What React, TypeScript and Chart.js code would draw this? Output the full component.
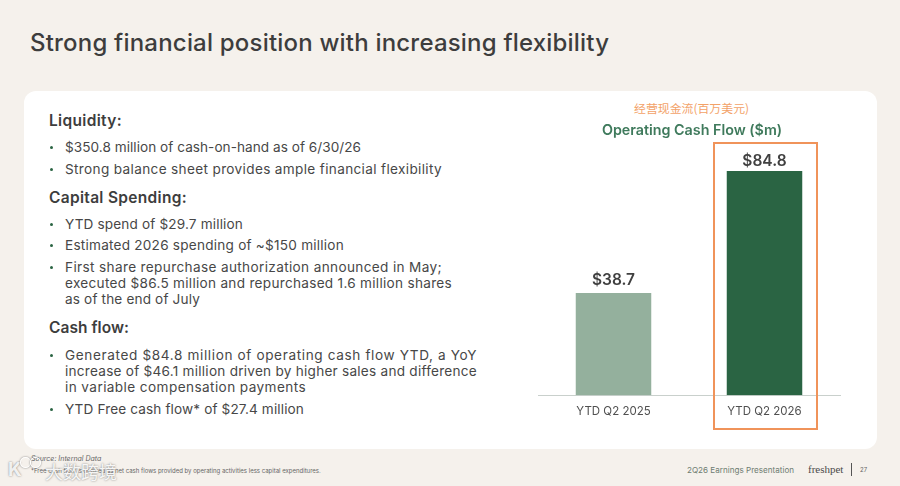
import React, { useEffect, useRef } from "react";
import { Chart, registerables } from "chart.js";

Chart.register(...registerables);

const categories = ["YTD Q2 2025", "YTD Q2 2026"];
const cashFlow = [38.7, 84.8];
const barColors = ["#94b09d", "#2a6443"];
const valueLabels = ["$38.7", "$84.8"];
const FONT = "Inter, 'Noto Sans', sans-serif";
const INK = "#474747";

type Line = { t: string; x: number; y: number; w: number; bold?: boolean; bullet?: boolean };
const textLines: Line[] = [
  { t: "Liquidity:", x: 49, y: 121, w: 73, bold: true },
  { t: "$350.8 million of cash-on-hand as of 6/30/26", x: 65, y: 147, w: 296, bullet: true },
  { t: "Strong balance sheet provides ample financial flexibility", x: 65, y: 169, w: 377, bullet: true },
  { t: "Capital Spending:", x: 49, y: 198, w: 138, bold: true },
  { t: "YTD spend of $29.7 million", x: 65, y: 224, w: 178, bullet: true },
  { t: "Estimated 2026 spending of ~$150 million", x: 65, y: 245, w: 279, bullet: true },
  { t: "First share repurchase authorization announced in May;", x: 65, y: 267, w: 377, bullet: true },
  { t: "executed $86.5 million and repurchased 1.6 million shares", x: 65, y: 283, w: 387 },
  { t: "as of the end of July", x: 65, y: 299, w: 135 },
  { t: "Cash flow:", x: 49, y: 328, w: 80, bold: true },
  { t: "Generated $84.8 million of operating cash flow YTD, a YoY", x: 65, y: 355, w: 412, bullet: true },
  { t: "increase of $46.1 million driven by higher sales and difference", x: 65, y: 371, w: 412 },
  { t: "in variable compensation payments", x: 65, y: 387, w: 241 },
  { t: "YTD Free cash flow* of $27.4 million", x: 65, y: 409, w: 239, bullet: true },
];

const labelLift = [8, 5];

const valueLabelPlugin = {
  id: "valueLabels",
  afterDatasetsDraw(chart: Chart) {
    const { ctx } = chart;
    chart.getDatasetMeta(0).data.forEach((bar: any, i: number) => {
      ctx.save();
      ctx.font = `600 15.5px ${FONT}`;
      ctx.fillStyle = "#404040";
      ctx.textAlign = "center";
      ctx.textBaseline = "alphabetic";
      ctx.fillText(valueLabels[i], bar.x, bar.y - labelLift[i]);
      ctx.restore();
    });
  },
};

function Fit({ line }: { line: Line }) {
  const ref = useRef<HTMLSpanElement>(null);
  useEffect(() => {
    const el = ref.current;
    if (!el) return;
    el.style.letterSpacing = "0px";
    const natural = el.getBoundingClientRect().width;
    el.style.letterSpacing = `${(line.w - natural) / line.t.length}px`;
  }, [line]);
  return (
    <>
      {line.bullet && (
        <div style={{ position: "absolute", left: 50, top: line.y - 1.5, width: 3, height: 3, borderRadius: 2, background: "#2a6443" }} />
      )}
      <span
        ref={ref}
        style={{
          position: "absolute",
          left: line.x,
          top: line.y - 10,
          lineHeight: "20px",
          whiteSpace: "nowrap",
          fontSize: line.bold ? 15.5 : 13.6,
          fontWeight: line.bold ? 600 : 400,
          color: line.bold ? "#3d3d3d" : INK,
        }}
      >
        {line.t}
      </span>
    </>
  );
}

const abs = (o: React.CSSProperties): React.CSSProperties => ({ position: "absolute", whiteSpace: "nowrap", ...o });

export default function App() {
  const canvasRef = useRef<HTMLCanvasElement>(null);

  useEffect(() => {
    document.body.style.margin = "0";
    const chart = new Chart(canvasRef.current!, {
      type: "bar",
      data: {
        labels: categories,
        datasets: [
          {
            data: cashFlow,
            backgroundColor: barColors,
            barPercentage: 0.5,
            categoryPercentage: 1,
          },
        ],
      },
      options: {
        animation: false,
        responsive: false,
        layout: { padding: { top: 22, right: 0, left: 0, bottom: 0 } },
        plugins: {
          legend: { display: false },
          tooltip: { enabled: false },
          title: {
            display: true,
            text: "Operating Cash Flow ($m)",
            color: "#3f7a5c",
            font: { family: FONT, size: 14.3, weight: 600 },
            padding: { top: 0, bottom: 5 },
          },
        },
        scales: {
          x: {
            grid: { display: false, drawTicks: false },
            border: { display: true, color: "#c9d0cc", width: 1 },
            ticks: { color: "#505050", font: { family: FONT, size: 11.5 }, padding: 9, maxRotation: 0 },
          },
          y: {
            position: "right",
            min: 0,
            max: 95,
            grid: { display: false, drawTicks: false },
            border: { display: false },
            ticks: { display: false },
            afterFit(scale: any) {
              scale.width = 6;
            },
          },
        },
      },
      plugins: [valueLabelPlugin],
    });
    return () => chart.destroy();
  }, []);

  return (
    <div style={{ position: "relative", width: 900, height: 486, overflow: "hidden", background: "#f5f1ec", fontFamily: FONT }}>
      <div style={abs({ left: 30, top: 27, fontSize: 24, lineHeight: "32px", fontWeight: 500, color: "#3d3d3d", letterSpacing: "0.2px" })}>
        Strong financial position with increasing flexibility
      </div>
      <div style={{ position: "absolute", left: 24, top: 91, width: 853, height: 358, borderRadius: 12, background: "#ffffff" }} />
      {textLines.map((l) => (
        <Fit key={l.t} line={l} />
      ))}
      <div style={abs({ left: 634, top: 100, fontSize: 11.9, lineHeight: "16px", color: "#f3a268", fontFamily: "'Noto Sans CJK SC', sans-serif" })}>
        经营现金流(百万美元)
      </div>
      <canvas ref={canvasRef} width={308} height={327} style={{ position: "absolute", left: 538, top: 100, width: 308, height: 327 }} />
      <div style={{ position: "absolute", left: 713, top: 142, width: 105, height: 288, boxSizing: "border-box", border: "2px solid #f0935a" }} />
      <div style={abs({ left: 31, top: 455, fontSize: 7, lineHeight: "8px", color: "#666", fontStyle: "italic" })}>Source: Internal Data</div>
      <div style={abs({ left: 31, top: 467, fontSize: 6, lineHeight: "8px", color: "#666" })}>
        *Free cash flow is defined as net cash flows provided by operating activities less capital expenditures.
      </div>
      <div style={abs({ left: 8, top: 459, fontSize: 19, lineHeight: "22px", fontWeight: 700, color: "rgba(255,255,255,0.9)", textShadow: "0 0 2px #777" })}>K</div>
      <div style={{ position: "absolute", left: 20, top: 457, width: 9, height: 9, borderRadius: 5, border: "1.5px solid rgba(255,255,255,0.9)", boxShadow: "0 0 2px #777" }} />
      <div style={{ position: "absolute", left: 30, top: 457, width: 9, height: 9, borderRadius: 5, border: "1.5px solid rgba(255,255,255,0.9)", boxShadow: "0 0 2px #777" }} />
      <div style={abs({ left: 45, top: 460, fontSize: 18, lineHeight: "22px", color: "rgba(255,255,255,0.92)", textShadow: "0 0 2px #777", fontFamily: "'Noto Sans CJK SC', sans-serif" })}>
        大数跨境
      </div>
      <div style={abs({ left: 687, top: 465, fontSize: 8.1, lineHeight: "10px", color: "#6f7d72" })}>2Q26 Earnings Presentation</div>
      <div style={abs({ left: 808, top: 462, fontSize: 11, lineHeight: "14px", color: "#4a4a4a", fontFamily: "'Liberation Serif', serif" })}>freshpet</div>
      <div style={{ position: "absolute", left: 851, top: 463, width: 1, height: 13, background: "#555" }} />
      <div style={abs({ left: 860, top: 466, fontSize: 6, lineHeight: "8px", color: "#666" })}>27</div>
    </div>
  );
}
